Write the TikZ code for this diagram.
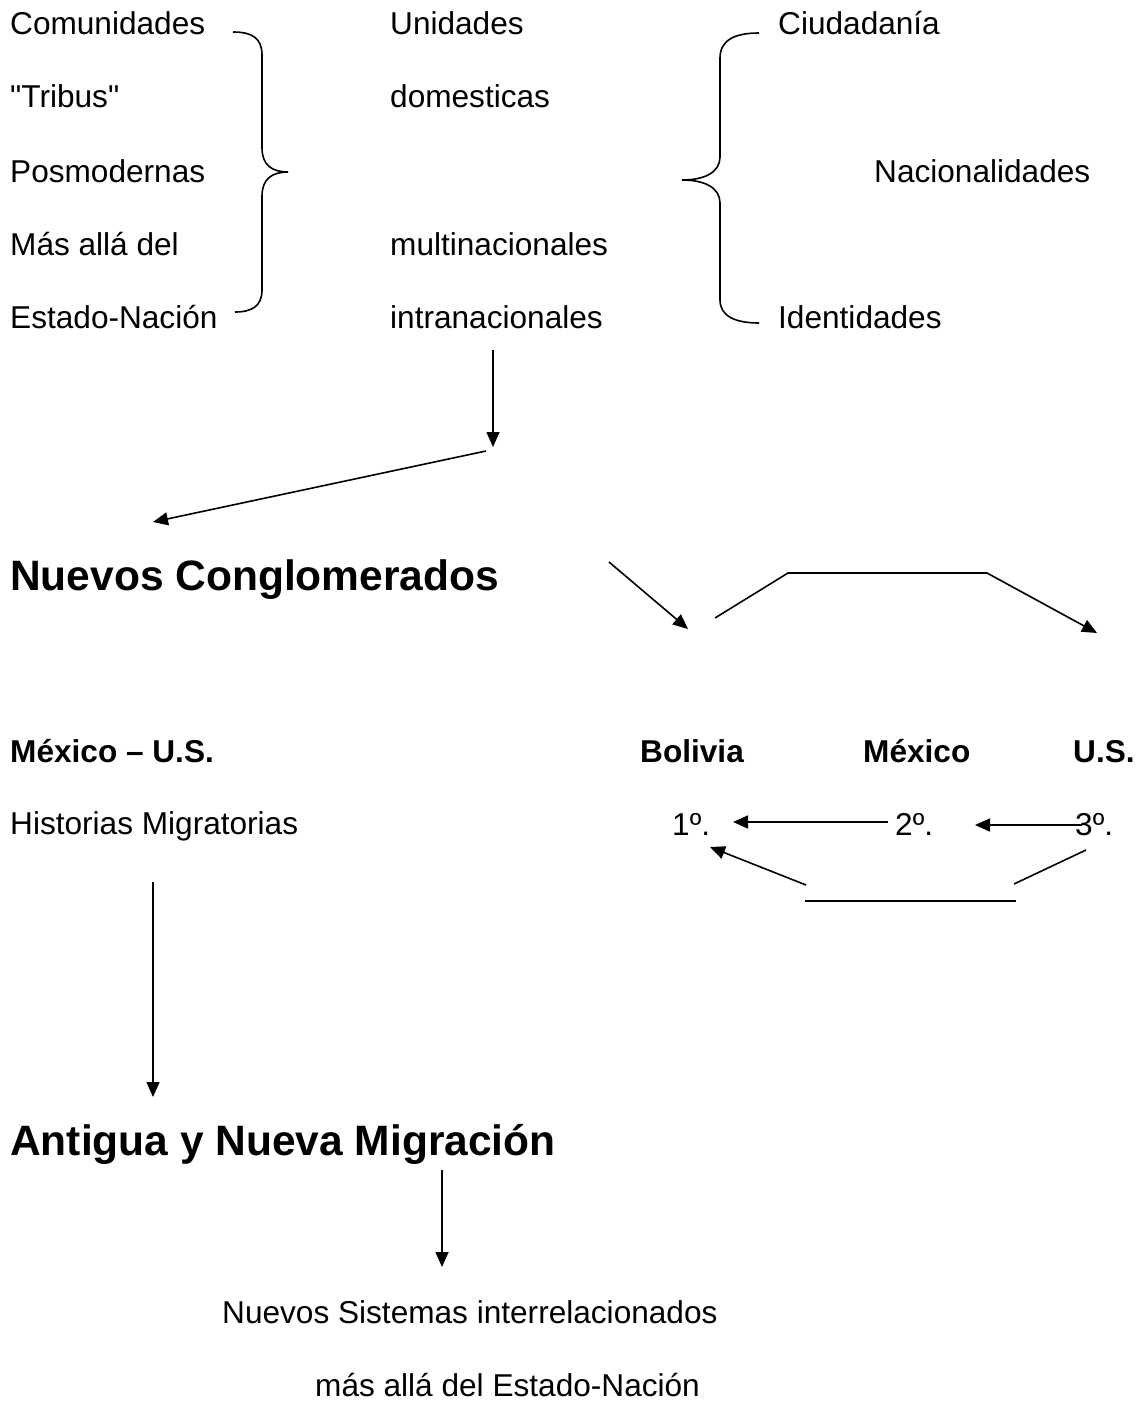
\documentclass[tikz,border=0pt]{standalone}
\usepackage{fontspec}
\setmainfont{Liberation Sans}[Ligatures=TeXOff]
\usetikzlibrary{arrows.meta}
\begin{document}
\begin{tikzpicture}[x=1pt,y=-1pt,
  txt/.style={anchor=base west, inner sep=0pt, font=\fontsize{31.6}{36}\selectfont},
  btxt/.style={anchor=base west, inner sep=0pt, font=\fontsize{31.6}{36}\selectfont\bfseries},
  bigtxt/.style={anchor=base west, inner sep=0pt, font=\fontsize{42.5}{48}\selectfont\bfseries},
  conn/.style={line width=1.6pt, draw=black},
  arr/.style={conn, -{Triangle[length=15pt,width=13pt]}},
  bracepath/.style={line width=1.6pt, draw=black}]
\fill[white] (0,0) rectangle (1143,1402);
\useasboundingbox (0,0) rectangle (1143,1402);

% top block
\node[txt] (comunidades) at (10,35) {Comunidades};
\node[txt] (tribus) at (10,108) {"Tribus"};
\node[txt] (posmodernas) at (10,182) {Posmodernas};
\node[txt] (masalla) at (10,255) {Más allá del};
\node[txt] (estado) at (10,328) {Estado-Nación};
\node[txt] (unidades) at (390,35) {Unidades};
\node[txt] (domesticas) at (390,108) {domesticas};
\node[txt] (multi) at (390,255) {multinacionales};
\node[txt] (intra) at (390,328) {intranacionales};
\node[txt] (ciudadania) at (778,35) {Ciudadanía};
\node[txt] (nacionalidades) at (874,182) {Nacionalidades};
\node[txt] (identidades) at (778,328) {Identidades};

% braces
\draw[bracepath] (233,32) .. controls (252,32) and (262,38) .. (262,55) -- (262,148)
  .. controls (262,165) and (272,172) .. (288,172)
  .. controls (272,172) and (262,179) .. (262,196) -- (262,290)
  .. controls (262,306) and (252,312) .. (235,312);
\draw[bracepath] (759,33) .. controls (735,33) and (720,40) .. (720,58) -- (720,157)
  .. controls (720,172) and (705,180) .. (682,180)
  .. controls (705,180) and (720,188) .. (720,203) -- (720,300)
  .. controls (720,316) and (735,323) .. (759,323);

% headings and middle rows
\node[bigtxt] (nuevos) at (10,590) {Nuevos Conglomerados};
\node[btxt] (mexus) at (10,762) {México – U.S.};
\node[txt] (historias) at (10,834) {Historias Migratorias};
\node[btxt] (bolivia) at (640,762) {Bolivia};
\node[btxt] (mexico) at (863,762) {México};
\node[btxt] (us) at (1073,762) {U.S.};
\node[txt] (uno) at (672,835) {1º.};
\node[txt] (dos) at (895,835) {2º.};
\node[txt] (tres) at (1075,835) {3º.};
\node[bigtxt] (antigua) at (10,1155) {Antigua y Nueva Migración};
\node[txt] (sistemas) at (222,1323) {Nuevos Sistemas interrelacionados};
\node[txt] (masalla2) at (315,1396) {más allá del Estado-Nación};

% connector end points
\coordinate (a1s) at (493,350);
\coordinate (a1e) at (493,447);
\coordinate (a2s) at (486,451);
\coordinate (a2e) at (153,522);
\coordinate (a3s) at (609,562);
\coordinate (a3e) at (688,629);
\coordinate (p1) at (715,618);
\coordinate (p2) at (788,573);
\coordinate (p3) at (987,573);
\coordinate (p4) at (1097,633);
\coordinate (a5s) at (888,822);
\coordinate (a5e) at (733,822);
\coordinate (a6s) at (1082,825);
\coordinate (a6e) at (975,825);
\coordinate (a7s) at (806,885);
\coordinate (a7e) at (710,847);
\coordinate (h1) at (805,901);
\coordinate (h2) at (1016,901);
\coordinate (r1) at (1014,884);
\coordinate (r2) at (1086,850);
\coordinate (a8s) at (153,882);
\coordinate (a8e) at (153,1097);
\coordinate (a9s) at (442,1170);
\coordinate (a9e) at (442,1267);

% connectors
\draw[arr] (a1s) -- (a1e);
\draw[arr] (a2s) -- (a2e);
\draw[arr] (a3s) -- (a3e);
\draw[arr] (p1) -- (p2) -- (p3) -- (p4);
\draw[arr] (a5s) -- (a5e);
\draw[arr] (a6s) -- (a6e);
\draw[arr] (a7s) -- (a7e);
\draw[conn] (h1) -- (h2);
\draw[conn] (r1) -- (r2);
\draw[arr] (a8s) -- (a8e);
\draw[arr] (a9s) -- (a9e);
\end{tikzpicture}
\end{document}
